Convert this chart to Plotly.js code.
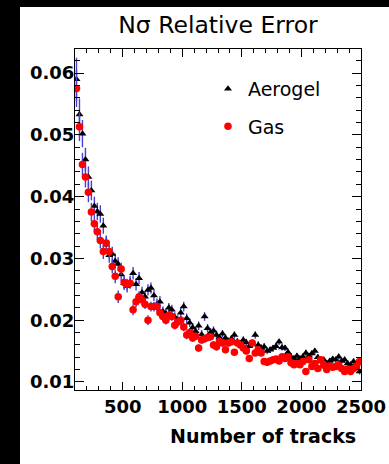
<!DOCTYPE html>
<html>
<head>
<meta charset="utf-8">
<script src="https://cdn.plot.ly/plotly-3.0.1.min.js"></script>
<style>
  html, body { margin: 0; padding: 0; background: #000; }
  #wrap { position: absolute; left: 0; top: 0; width: 389px; height: 464px; background: #000; overflow: hidden; }
  #chart { position: absolute; left: 20px; top: 7px; width: 369px; height: 457px; background: #fff; }
</style>
</head>
<body>
<div id="wrap"><div id="chart"></div></div>
<script>
// Bin centres: 25-track bins from 100 to 2500
const tracks = [
  112.5,137.5,162.5,187.5,212.5,237.5,262.5,287.5,312.5,337.5,
  362.5,387.5,412.5,437.5,462.5,487.5,512.5,537.5,562.5,587.5,
  612.5,637.5,662.5,687.5,712.5,737.5,762.5,787.5,812.5,837.5,
  862.5,887.5,912.5,937.5,962.5,987.5,1012.5,1037.5,1062.5,1087.5,
  1112.5,1137.5,1162.5,1187.5,1212.5,1237.5,1262.5,1287.5,1312.5,1337.5,
  1362.5,1387.5,1412.5,1437.5,1462.5,1487.5,1512.5,1537.5,1562.5,1587.5,
  1612.5,1637.5,1662.5,1687.5,1712.5,1737.5,1762.5,1787.5,1812.5,1837.5,
  1862.5,1887.5,1912.5,1937.5,1962.5,1987.5,2012.5,2037.5,2062.5,2087.5,
  2112.5,2137.5,2162.5,2187.5,2212.5,2237.5,2262.5,2287.5,2312.5,2337.5,
  2362.5,2387.5,2412.5,2437.5,2462.5,2487.5
];

const aerogel = [
  0.0590,0.0533,0.0502,0.0460,0.0432,0.0410,0.0385,0.0376,0.0372,0.0353,
  0.0322,0.0305,0.0307,0.0296,0.0291,0.0274,0.0260,0.0255,0.0262,0.0276,
  0.0258,0.0268,0.0245,0.0238,0.0249,0.0252,0.0240,0.0226,0.0230,0.0214,
  0.0211,0.0220,0.0217,0.0205,0.0200,0.0212,0.0222,0.0203,0.0196,0.0188,
  0.0182,0.0191,0.0177,0.0206,0.0187,0.0180,0.0183,0.0176,0.0172,0.0178,
  0.0171,0.0166,0.0170,0.0176,0.0165,0.0162,0.0168,0.0164,0.0158,0.0163,
  0.0176,0.0160,0.0155,0.0157,0.0150,0.0152,0.0155,0.0158,0.0165,0.0156,
  0.0155,0.0148,0.0141,0.0138,0.0142,0.0138,0.0141,0.0147,0.0142,0.0146,
  0.0150,0.0140,0.0133,0.0136,0.0130,0.0134,0.0137,0.0136,0.0141,0.0134,
  0.0136,0.0130,0.0128,0.0133,0.0130,0.0117
];
const aerogelErr = [
  0.0035,0.0026,0.0022,0.0019,0.0017,0.0016,0.0015,0.0014,0.0014,0.0013,
  0.0013,0.0012,0.0012,0.0012,0.0011,0.0011,0.0011,0.0010,0.0010,0.0010,
  0.0010,0.0010,0.0009,0.0009,0.0009,0.0009,0.0009,0.0009,0.0009,0.0008,
  0.0008,0.0008,0.0008,0.0008,0.0008,0.0008,0.0008,0.0008,0.0007,0.0007,
  0.0007,0.0007,0.0007,0.0007,0.0007,0.0007,0.0007,0.0007,0.0006,0.0006,
  0.0006,0.0006,0.0006,0.0006,0.0006,0.0006,0.0006,0.0006,0.0006,0.0006,
  0.0006,0.0006,0.0006,0.0006,0.0005,0.0005,0.0005,0.0005,0.0005,0.0005,
  0.0005,0.0005,0.0005,0.0005,0.0005,0.0005,0.0005,0.0005,0.0005,0.0005,
  0.0005,0.0005,0.0005,0.0005,0.0005,0.0005,0.0005,0.0005,0.0005,0.0005,
  0.0005,0.0005,0.0005,0.0005,0.0005,0.0005
];

const gas = [
  0.0575,0.0513,0.0452,0.0432,0.0407,0.0375,0.0356,0.0343,0.0329,0.0311,
  0.0325,0.0311,0.0287,0.0271,0.0238,0.0283,0.0261,0.0258,0.0260,0.0217,
  0.0230,0.0238,0.0233,0.0226,0.0200,0.0222,0.0222,0.0222,0.0212,0.0206,
  0.0200,0.0208,0.0206,0.0192,0.0197,0.0200,0.0189,0.0176,0.0180,0.0171,
  0.0174,0.0155,0.0168,0.0170,0.0172,0.0173,0.0160,0.0157,0.0166,0.0163,
  0.0152,0.0163,0.0165,0.0148,0.0163,0.0160,0.0155,0.0150,0.0138,0.0163,
  0.0147,0.0152,0.0147,0.0133,0.0132,0.0134,0.0136,0.0137,0.0134,0.0141,
  0.0138,0.0141,0.0131,0.0128,0.0130,0.0128,0.0133,0.0117,0.0136,0.0125,
  0.0130,0.0122,0.0136,0.0127,0.0120,0.0126,0.0124,0.0125,0.0127,0.0122,
  0.0117,0.0121,0.0117,0.0122,0.0126,0.0133
];
const gasErr = [
  0.0030,0.0023,0.0019,0.0017,0.0016,0.0015,0.0014,0.0013,0.0013,0.0012,
  0.0012,0.0011,0.0011,0.0011,0.0010,0.0010,0.0010,0.0009,0.0009,0.0009,
  0.0009,0.0009,0.0008,0.0008,0.0008,0.0008,0.0008,0.0008,0.0008,0.0007,
  0.0007,0.0007,0.0007,0.0007,0.0007,0.0007,0.0007,0.0007,0.0006,0.0006,
  0.0006,0.0006,0.0006,0.0006,0.0006,0.0006,0.0006,0.0006,0.0006,0.0006,
  0.0005,0.0005,0.0005,0.0005,0.0005,0.0005,0.0005,0.0005,0.0005,0.0005,
  0.0005,0.0005,0.0005,0.0005,0.0005,0.0005,0.0005,0.0005,0.0005,0.0005,
  0.0004,0.0004,0.0004,0.0004,0.0004,0.0004,0.0004,0.0004,0.0004,0.0004,
  0.0004,0.0004,0.0004,0.0004,0.0004,0.0004,0.0004,0.0004,0.0004,0.0004,
  0.0004,0.0004,0.0004,0.0004,0.0004,0.0004
];

const seriesNames = ['Aerogel', 'Gas'];
const xTickVals = [500, 1000, 1500, 2000, 2500];
const yTickVals = [0.01, 0.02, 0.03, 0.04, 0.05, 0.06];
const chartTitle = 'N\u03C3 Relative Error';
const xTitle = 'Number of tracks';

const errColor = '#4a3fd2';

const traces = [
  {
    x: tracks, y: aerogel, name: seriesNames[0], type: 'scatter', mode: 'markers',
    legendgroup: 'a',
    marker: { symbol: 'triangle-up', size: 7, color: '#000000' },
    error_y: { type: 'data', array: aerogelErr, visible: true, color: errColor, thickness: 1.4, width: 0 }
  },
  {
    x: tracks, y: gas, name: seriesNames[1], type: 'scatter', mode: 'markers',
    legendgroup: 'g',
    marker: { symbol: 'circle', size: 7.5, color: '#ff0000' },
    error_y: { type: 'data', array: gasErr, visible: true, color: errColor, thickness: 1.4, width: 0 }
  }
];

const tickFont = { family: 'DejaVu Sans', size: 18, color: '#000', weight: 'bold' };

const layout = {
  width: 369, height: 457,
  margin: { l: 55, r: 28, t: 42, b: 74, pad: 0 },
  paper_bgcolor: '#ffffff', plot_bgcolor: '#ffffff',
  title: {
    text: chartTitle, x: 0.5, xref: 'paper', xanchor: 'center',
    y: 0.962, yref: 'container', yanchor: 'middle',
    font: { family: 'DejaVu Sans', size: 23.5, color: '#000' }
  },
  showlegend: true,
  legend: {
    x: 0.465, xanchor: 'left', y: 0.939, yanchor: 'top',
    bgcolor: 'rgba(0,0,0,0)', borderwidth: 0,
    traceorder: 'grouped', tracegroupgap: 10,
    font: { family: 'DejaVu Sans', size: 19, color: '#000' }
  },
  xaxis: {
    range: [100, 2500], tickvals: xTickVals, ticktext: xTickVals.map(String),
    ticks: 'inside', ticklen: 8, tickwidth: 1, tickcolor: '#000',
    showline: true, linecolor: '#000', linewidth: 1, mirror: 'allticks',
    showgrid: false, zeroline: false,
    tickfont: tickFont,
    minor: { dtick: 100, tick0: 0, ticks: 'inside', ticklen: 4, tickcolor: '#000', tickwidth: 1, showgrid: false }
  },
  yaxis: {
    range: [0.0087, 0.0639], tickvals: yTickVals, ticktext: yTickVals.map(v => v.toFixed(2)),
    ticks: 'inside', ticklen: 9, tickwidth: 1, tickcolor: '#000',
    showline: true, linecolor: '#000', linewidth: 1, mirror: 'allticks',
    showgrid: false, zeroline: false,
    ticklabelstandoff: -4,
    tickfont: tickFont,
    minor: { dtick: 0.002, tick0: 0, ticks: 'inside', ticklen: 5, tickcolor: '#000', tickwidth: 1, showgrid: false }
  },
  annotations: [
    {
      text: xTitle, xref: 'paper', yref: 'paper', x: 1, y: 0,
      xanchor: 'right', yanchor: 'middle', xshift: -3, yshift: -46,
      showarrow: false,
      font: { family: 'DejaVu Sans', size: 19, color: '#000', weight: 'bold' }
    }
  ]
};

Plotly.newPlot('chart', traces, layout, { displayModeBar: false, staticPlot: true });
</script>
</body>
</html>
